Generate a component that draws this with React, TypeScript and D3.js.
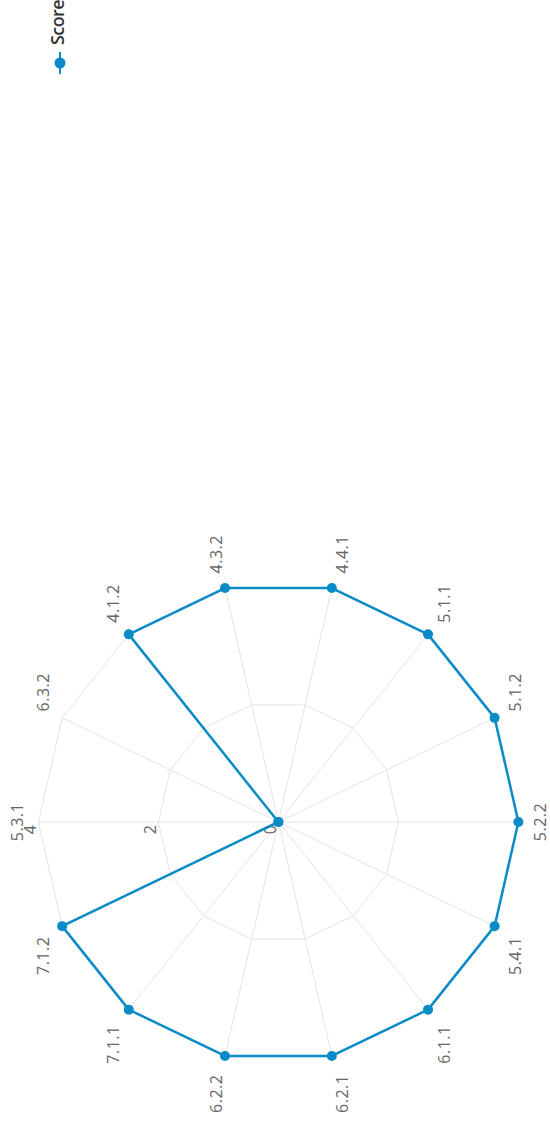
import React from "react";
import * as d3 from "d3";

const categories: string[] = [
  "5.3.1", "6.3.2", "4.1.2", "4.3.2", "4.4.1", "5.1.1", "5.1.2",
  "5.2.2", "5.4.1", "6.1.1", "6.2.1", "6.2.2", "7.1.1", "7.1.2",
];
const scores: number[] = [0, 0, 4, 4, 4, 4, 4, 4, 4, 4, 4, 4, 4, 4];
const tickValues: number[] = [0, 2, 4];
const gridLevels: number[] = [2, 4];
const seriesName = "Score";

const W = 550;
const H = 1129;
const CX = 278.4;
const CY = 822;
const R = 240;
const COLOR = "#0a8bc8";
const GRID = "#e4e4e4";
const FONT = "'Open Sans', 'Noto Sans', sans-serif";

export default function App() {
  const n = categories.length;
  const angle = d3
    .scaleLinear()
    .domain([0, n])
    .range([0, 2 * Math.PI]);
  const radius = d3.scaleLinear().domain([0, 4]).range([0, R]);

  const pt = (i: number, v: number): [number, number] => {
    const a = angle(i);
    const r = radius(v);
    return [r * Math.sin(a), -r * Math.cos(a)];
  };

  const lineGen = d3
    .line<number>()
    .x((v, i) => pt(i, v)[0])
    .y((v, i) => pt(i, v)[1])
    .curve(d3.curveLinearClosed);

  const gridPath = (lvl: number) =>
    d3
      .line<number>()
      .x((_, i) => pt(i, lvl)[0])
      .y((_, i) => pt(i, lvl)[1])
      .curve(d3.curveLinearClosed)(categories.map(() => lvl)) || "";

  return (
    <svg
      width={W}
      height={H}
      style={{ position: "absolute", left: 0, top: 0, display: "block" }}
    >
      <rect width={W} height={H} fill="#ffffff" />
      {/* legend */}
      <g transform="translate(60,63) rotate(-90)">
        <line x1={-11} x2={11} y1={0} y2={0} stroke={COLOR} strokeWidth={2} />
        <circle r={5.5} fill={COLOR} />
        <text
          x={18}
          y={3.5}
          fontFamily={FONT}
          fontSize={18}
          fontWeight={600}
          letterSpacing={-0.6}
          fill="#333"
        >
          {seriesName}
        </text>
      </g>
      <g transform={`translate(${CX},${CY}) rotate(-90)`}>
        {gridLevels.map((lvl) => (
          <path key={lvl} d={gridPath(lvl)} fill="none" stroke={GRID} strokeWidth={1} />
        ))}
        {categories.map((c, i) => {
          const [x, y] = pt(i, 4);
          return <line key={c} x1={0} y1={0} x2={x} y2={y} stroke={GRID} strokeWidth={1} />;
        })}
        {tickValues.map((v) => (
          <text
            key={v}
            x={-3}
            y={-radius(v) - 2}
            textAnchor="end"
            fontFamily={FONT}
            fontSize={16}
            fill="#666"
          >
            {v}
          </text>
        ))}
        {categories.map((c, i) => {
          const a = angle(i);
          const s = Math.sin(a);
          const co = Math.cos(a);
          const rr = R + 15;
          const x = rr * s;
          const y = -rr * co;
          const anchor = Math.abs(s) < 0.01 ? "middle" : s > 0 ? "start" : "end";
          const dy = Math.abs(co) < 0.01 ? "0.35em" : co > 0 ? "0em" : "0.78em";
          return (
            <text
              key={c}
              x={x + (s < -0.01 ? -4 : 0)}
              y={y}
              dy={dy}
              textAnchor={anchor}
              fontFamily={FONT}
              fontSize={16}
              letterSpacing={0.5}
              fill="#666"
            >
              {c}
            </text>
          );
        })}
        <path d={lineGen(scores) || ""} fill="none" stroke={COLOR} strokeWidth={2.5} strokeLinejoin="round" />
        {scores.map((v, i) => {
          const [x, y] = pt(i, v);
          return <circle key={i} cx={x} cy={y} r={5} fill={COLOR} />;
        })}
      </g>
    </svg>
  );
}
